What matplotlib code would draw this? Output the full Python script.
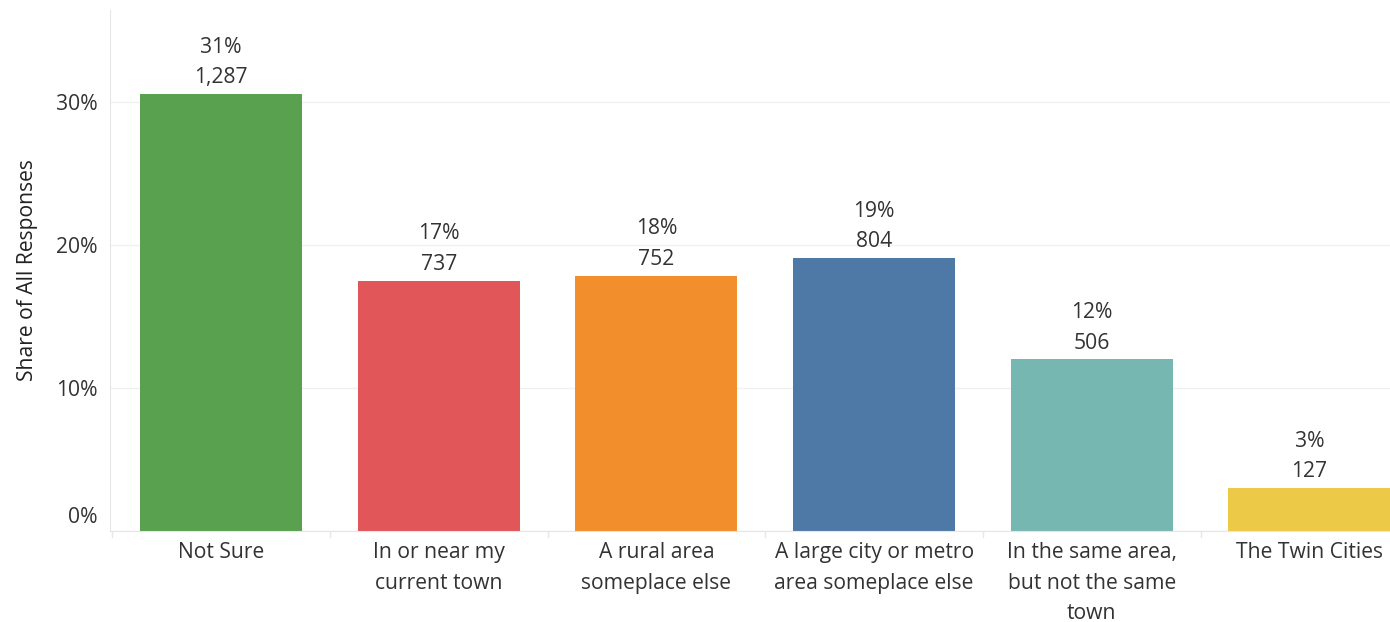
import matplotlib
matplotlib.use("Agg")
import matplotlib.pyplot as plt

# data
categories = ["Not Sure", "In or near my\ncurrent town", "A rural area\nsomeplace else",
              "A large city or metro\narea someplace else",
              "In the same area,\nbut not the same\ntown", "The Twin Cities"]
counts = [1287, 737, 752, 804, 506, 127]
pct_labels = ["31%", "17%", "18%", "19%", "12%", "3%"]
colors = ["#59a14f", "#e15759", "#f28e2b", "#4e79a7", "#76b7b2", "#edc948"]

total = sum(counts)
shares = [c / total * 100 for c in counts]

plt.rcParams['font.family'] = ['Open Sans', 'DejaVu Sans']
txt = "#333333"
fs = 15.2

fig = plt.figure(figsize=(13.9, 6.22), dpi=100)
ax = fig.add_axes([110 / 1390, 91 / 622, 1280 / 1390, 521 / 622])

x = list(range(len(categories)))
ax.bar(x, shares, width=0.745, color=colors, zorder=2)

for i, (s, p, c) in enumerate(zip(shares, pct_labels, counts)):
    ax.annotate(f"{p}\n{c:,}", (i, s), xytext=(0, 4), textcoords="offset points",
                ha="center", va="bottom", fontsize=fs, color=txt, linespacing=1.6)

ax.set_xlim(-0.51, 5.37)
ax.set_ylim(0, 36.4)
ax.set_yticks([0, 10, 20, 30])
ax.set_yticklabels(["", "10%", "20%", "30%"], fontsize=fs, color=txt)
# tableau nudges the 0% label up off the baseline
ax.annotate("0%", (0, 0), xycoords="axes fraction", xytext=(-9, 10), textcoords="offset points",
            ha="right", va="center", fontsize=fs, color=txt)

ax.set_xticks(x)
ax.set_xticklabels(categories, fontsize=fs, color=txt, linespacing=1.6, va="top")
ax.tick_params(axis="x", length=0, pad=8)
ax.tick_params(axis="y", length=0, pad=9)

# category separators below axis
for b in [-0.5 + k for k in range(6)]:
    ax.plot([b, b], [0, -0.45], color="#e6e6e6", lw=1, clip_on=False, zorder=1)

ax.grid(axis="y", color="#f0f0f0", lw=1, zorder=0)
for side in ["top", "right"]:
    ax.spines[side].set_visible(False)
ax.spines["left"].set_color("#e6e6e6")
ax.spines["bottom"].set_color("#e6e6e6")

ax.set_ylabel("Share of All Responses", fontsize=fs, color="#222222")
ax.yaxis.set_label_coords(-72 / 1280, 0.5)

fig.savefig("out.png", dpi=100)
